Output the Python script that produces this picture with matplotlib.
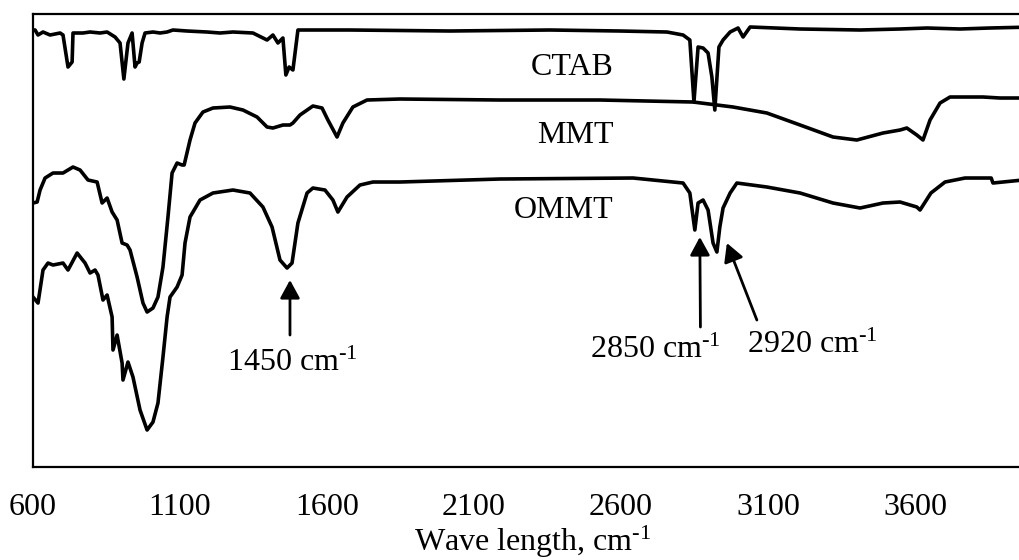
import matplotlib
matplotlib.use("Agg")
import matplotlib.pyplot as plt

plt.rcParams['font.family'] = ['Liberation Serif', 'DejaVu Serif']
plt.rcParams['mathtext.fontset'] = 'custom'
plt.rcParams['mathtext.rm'] = 'Liberation Serif'
plt.rcParams['mathtext.it'] = 'Liberation Serif:italic'

# FTIR spectra, offset transmittance (arbitrary units)
ctab_wn = [600, 607, 617, 634, 658, 692, 702, 719, 733, 736, 770, 794, 828, 852, 879, 896,
           909, 923, 937, 947, 954, 961, 971, 981, 1008, 1032, 1056, 1076, 1124, 1192, 1236,
           1280, 1348, 1396, 1416, 1433, 1450, 1460, 1471, 1484, 1501, 1678, 2018, 2358,
           2596, 2756, 2811, 2834, 2848, 2862, 2879, 2896, 2909, 2919, 2933, 2947, 2971,
           2998, 3015, 3039, 3209, 3413, 3549, 3641, 3753, 3855, 4000]
ctab_t = [437, 437, 432, 435, 432, 434, 432, 400, 405, 434, 434, 435, 434, 435, 430, 424,
          388, 424, 434, 400, 404, 405, 424, 434, 435, 434, 435, 437, 436, 435, 434,
          435, 434, 427, 432, 424, 429, 392, 400, 397, 437, 437, 436, 437,
          436, 435, 432, 427, 365, 420, 419, 414, 390, 357, 420, 427, 435,
          439, 430, 440, 438, 437, 438, 439, 438, 439, 440]

mmt_wn = [600, 614, 624, 641, 668, 702, 736, 760, 787, 818, 835, 852, 869, 886, 903, 920,
          930, 954, 974, 988, 1008, 1025, 1042, 1059, 1073, 1090, 1107, 1114, 1134, 1151,
          1178, 1212, 1270, 1314, 1362, 1396, 1416, 1450, 1474, 1484, 1508, 1552, 1583,
          1603, 1634, 1654, 1688, 1736, 1848, 2188, 2528, 2845, 2981, 3096, 3209, 3321,
          3402, 3491, 3549, 3572, 3606, 3627, 3651, 3685, 3719, 3777, 3831, 3889, 4000]
mmt_t = [264, 265, 277, 289, 294, 294, 300, 297, 287, 285, 264, 269, 255, 247, 224, 222,
         217, 190, 164, 155, 159, 170, 200, 250, 294, 304, 302, 302, 327, 344,
         355, 359, 360, 357, 350, 340, 339, 342, 342, 344, 352, 361, 359,
         347, 330, 344, 360, 367, 368, 367, 367, 365, 360, 354, 342, 330,
         327, 334, 337, 339, 332, 327, 347, 364, 370, 370, 370, 369, 369]

ommt_wn = [600, 617, 634, 651, 668, 702, 719, 750, 777, 794, 811, 821, 838, 852, 869, 872,
           886, 903, 906, 923, 940, 964, 988, 1008, 1025, 1042, 1056, 1066, 1090, 1107,
           1117, 1134, 1168, 1212, 1280, 1338, 1382, 1413, 1440, 1464, 1481, 1501, 1532,
           1552, 1593, 1620, 1637, 1668, 1712, 1756, 1848, 2188, 2641, 2811, 2834, 2851,
           2862, 2879, 2896, 2913, 2926, 2936, 2947, 2971, 2994, 3096, 3209, 3321, 3413,
           3491, 3549, 3606, 3617, 3654, 3702, 3770, 3859, 3865, 4000]
ommt_t = [170, 164, 197, 204, 202, 204, 197, 214, 204, 194, 197, 192, 167, 172, 150, 117,
          132, 104, 87, 105, 90, 57, 37, 45, 64, 110, 150, 170, 180, 192,
          224, 250, 267, 274, 277, 274, 260, 240, 207, 199, 204, 244, 274,
          279, 277, 267, 255, 270, 282, 285, 285, 288, 289, 284, 274, 237,
          264, 267, 257, 224, 215, 240, 259, 274, 284, 280, 274, 264, 259,
          264, 265, 260, 257, 274, 285, 289, 289, 284, 288]

sup = r'$^{\text{-1}}$'
peak_labels = ['1450 cm' + sup, '2850 cm' + sup, '2920 cm' + sup]

fig = plt.figure(figsize=(10.19, 5.6), dpi=100)
ax = fig.add_axes([0.0324, 0.166, 0.981, 0.809])

for wn, t in [(ctab_wn, ctab_t), (mmt_wn, mmt_t), (ommt_wn, ommt_t)]:
    ax.plot(wn, t, color='black', lw=2.6, solid_joinstyle='round')

ax.set_xlim(600, 4000)
ax.set_ylim(0, 453)
ax.set_xticks([600, 1100, 1600, 2100, 2600, 3100, 3600])
ax.set_yticks([])
ax.tick_params(axis='x', length=0, pad=19, labelsize=23)
for s in ax.spines.values():
    s.set_linewidth(1.6)
ax.set_xlabel('Wave length, cm' + sup, fontsize=23, labelpad=1)

ax.text(2433, 400, 'CTAB', fontsize=23, ha='center', va='center')
ax.text(2443, 332, 'MMT', fontsize=23, ha='center', va='center')
ax.text(2403, 257, 'OMMT', fontsize=23, ha='center', va='center')

arrow = dict(arrowstyle='-|>,head_length=0.55,head_width=0.3', color='black',
             lw=2, shrinkA=0, shrinkB=0, mutation_scale=20)
ax.annotate('', xy=(1474, 187), xytext=(1474, 132), arrowprops=arrow)
ax.annotate('', xy=(2868, 230), xytext=(2870, 140), arrowprops=arrow)
ax.annotate('', xy=(2960, 224), xytext=(3062, 147), arrowprops=arrow)

ax.text(1481, 104, peak_labels[0], fontsize=23, ha='center', va='center')
ax.text(2715, 117, peak_labels[1], fontsize=23, ha='center', va='center')
ax.text(3249, 122, peak_labels[2], fontsize=23, ha='center', va='center')

fig.savefig('out.png', dpi=100)
